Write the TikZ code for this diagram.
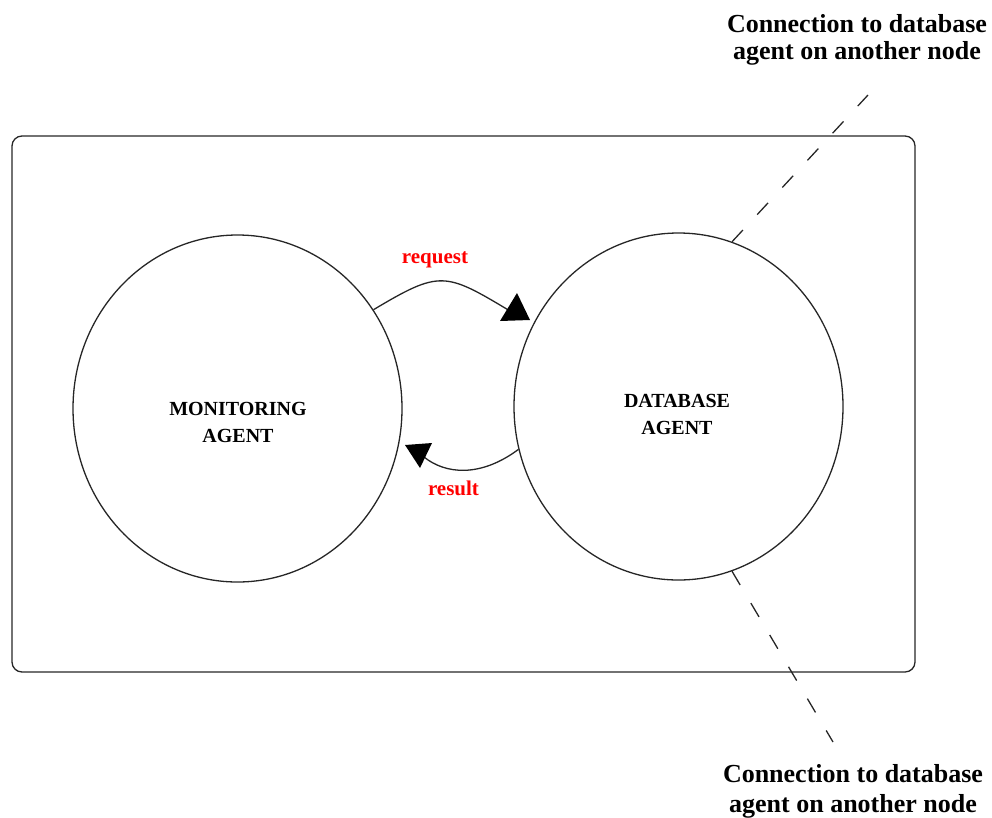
\documentclass[tikz,border=0pt]{standalone}
\usepackage{fontspec}
\setmainfont{Liberation Serif}
\usetikzlibrary{shapes.geometric}
\begin{document}
\begin{tikzpicture}[x=1pt,y=-1pt,
  outline/.style={draw=black!85,line width=1.3pt},
  agent/.style={ellipse,outline,minimum width=329pt,minimum height=347pt,inner sep=0pt},
  agentname/.style={font=\bfseries\fontsize{20}{27}\selectfont,align=center,anchor=base},
  msg/.style={font=\bfseries\fontsize{21}{25}\selectfont,text=red,anchor=base,inner sep=0pt},
  note/.style={font=\bfseries\fontsize{26}{27}\selectfont,align=center,anchor=base},
  link/.style={outline,dash pattern=on 16pt off 21pt},
  flow/.style={draw=black!85,line width=1.3pt},
  head/.style={fill=black}]
\useasboundingbox (0,0) rectangle (992,817);

% host node boundary
\node[outline,rounded corners=10pt,minimum width=903pt,minimum height=536pt,inner sep=0pt] (host) at (463.5,404) {};

% the two agents (multi-line labels are placed by the baseline of their last line)
\node[agent] (mon) at (237.5,408.5) {};
\node[agent] (db) at (678.5,406.5) {};
\node[agentname] (monname) at (238,442) {MONITORING\\AGENT};
\node[agentname] (dbname) at (677,434) {DATABASE\\AGENT};

% request: monitoring -> database
\coordinate (reqend) at (510,311);
\draw[flow] (mon.36.8) .. controls (440,270) and (445,272) .. (reqend);
\fill[head] (517,293) -- (500,321) -- (530,320) -- cycle;
\node[msg] (req) at (435,263) {request};

% result: database -> monitoring
\coordinate (resend) at (424,457);
\draw[flow] (db.195.5) .. controls (480,478) and (445,474) .. (resend);
\fill[head] (405,445) -- (432,443) -- (420,468) -- cycle;
\node[msg] (res) at (453.5,495) {result};

% links to remote database agents
\coordinate (topend) at (868,95);
\coordinate (botend) at (833,742);
\draw[link] (db.72.3) -- (topend);
\draw[link] (db.-72.1) -- (botend);
\node[note] (topnote) at (857,59) {Connection to database\\agent on another node};
\node[note,font=\bfseries\fontsize{26}{30}\selectfont] (botnote) at (853,812) {Connection to database\\agent on another node};
\end{tikzpicture}
\end{document}
